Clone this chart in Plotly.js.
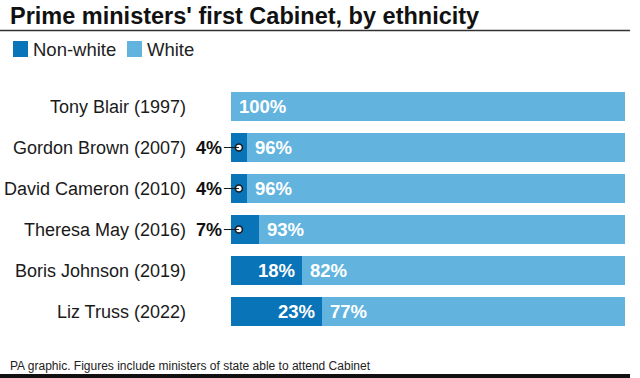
<!DOCTYPE html>
<html>
<head>
<meta charset="utf-8">
<script src="https://cdn.plot.ly/plotly-3.0.1.min.js"></script>
<style>
  html, body { margin: 0; padding: 0; background: #fff; }
  #chart { width: 640px; height: 378px; }
</style>
</head>
<body>
<div id="chart"></div>
<script>
// ---- Data ----
const categories = ['Tony Blair (1997)', 'Gordon Brown (2007)', 'David Cameron (2010)', 'Theresa May (2016)', 'Boris Johnson (2019)', 'Liz Truss (2022)'];
const nonWhite = [0, 4, 4, 7, 18, 23];
const white = [100, 96, 96, 93, 82, 77];
const seriesNames = ['Non-white', 'White'];
const titleText = "Prime ministers' first Cabinet, by ethnicity";
const footerText = 'PA graphic. Figures include ministers of state able to attend Cabinet';

// ---- Style ----
const W = 640, H = 378;
const M = {l: 231, r: 15, t: 86, b: 46};
const PW = W - M.l - M.r, PH = H - M.t - M.b;
const DARK = '#0a74b9', LIGHT = '#62b4df';
const FONT = 'Liberation Sans, Arial, sans-serif';
const px = p => (p - M.l) / PW;           // pixel x -> paper x
const py = p => (H - M.b - p) / PH;       // pixel y -> paper y
const SMALL = 10;                         // below this, non-white label goes outside
const DOT_X = 2;                          // marker position inside small segment

const traces = [
  {type: 'bar', orientation: 'h', name: seriesNames[0], y: categories, x: nonWhite,
   marker: {color: DARK}, width: 0.707, hoverinfo: 'x+y'},
  {type: 'bar', orientation: 'h', name: seriesNames[1], y: categories, x: white,
   marker: {color: LIGHT}, width: 0.707, hoverinfo: 'x+y'},
  {type: 'scatter', mode: 'markers', showlegend: false, hoverinfo: 'skip',
   y: categories.filter((c, i) => nonWhite[i] > 0 && nonWhite[i] < SMALL),
   x: nonWhite.filter(v => v > 0 && v < SMALL).map(() => DOT_X),
   marker: {symbol: 'circle', size: 7, color: '#ffffff', line: {color: '#1a1a1a', width: 1.6}}}
];

const annotations = [];
categories.forEach((c, i) => {
  // white labels
  annotations.push({x: nonWhite[i], y: c, xref: 'x', yref: 'y', text: white[i] + '%',
    showarrow: false, xanchor: 'left', xshift: 6,
    font: {family: FONT, size: 18.5, color: '#ffffff', weight: 'bold'}});
  if (nonWhite[i] >= SMALL) {
    annotations.push({x: nonWhite[i], y: c, xref: 'x', yref: 'y', text: nonWhite[i] + '%',
      showarrow: false, xanchor: 'right', xshift: -5,
      font: {family: FONT, size: 18.5, color: '#ffffff', weight: 'bold'}});
  } else if (nonWhite[i] > 0) {
    annotations.push({x: DOT_X, y: c, xref: 'x', yref: 'y', text: nonWhite[i] + '%',
      showarrow: true, arrowhead: 0, arrowwidth: 1, arrowcolor: '#1a1a1a',
      ax: -15, ay: 0, axref: 'pixel', ayref: 'pixel', xanchor: 'right',
      font: {family: FONT, size: 18, color: '#111111', weight: 'bold'}});
  }
});
// legend (custom)
annotations.push({x: px(31), y: py(49), xref: 'paper', yref: 'paper', text: seriesNames[0],
  showarrow: false, xanchor: 'left', yanchor: 'middle', font: {family: FONT, size: 18.5, color: '#222'}});
annotations.push({x: px(145), y: py(49), xref: 'paper', yref: 'paper', text: seriesNames[1],
  showarrow: false, xanchor: 'left', yanchor: 'middle', font: {family: FONT, size: 18.5, color: '#222'}});
// footer
annotations.push({x: px(8), y: py(366), xref: 'paper', yref: 'paper', text: footerText,
  showarrow: false, xanchor: 'left', yanchor: 'middle', font: {family: FONT, size: 12, color: '#222'}});

const shapes = [
  {type: 'line', xref: 'paper', yref: 'paper', x0: px(0), x1: px(630), y0: py(30.5), y1: py(30.5),
   line: {color: '#333', width: 1.5}},
  {type: 'rect', xref: 'paper', yref: 'paper', x0: px(13), x1: px(28), y0: py(41), y1: py(57),
   fillcolor: DARK, line: {width: 0}},
  {type: 'rect', xref: 'paper', yref: 'paper', x0: px(127), x1: px(142), y0: py(41), y1: py(57),
   fillcolor: LIGHT, line: {width: 0}},
  {type: 'rect', xref: 'paper', yref: 'paper', x0: px(0), x1: px(630), y0: py(374), y1: py(378),
   fillcolor: '#111', line: {width: 0}}
];

const layout = {
  width: W, height: H,
  margin: M,
  paper_bgcolor: '#ffffff', plot_bgcolor: '#ffffff',
  barmode: 'stack',
  showlegend: false,
  title: {text: titleText, x: 10 / W, xanchor: 'left', xref: 'container',
          y: 1 - 15.5 / H, yanchor: 'middle', yref: 'container',
          font: {family: FONT, size: 23.5, color: '#111', weight: 'bold'}},
  xaxis: {range: [0, 100], visible: false, fixedrange: true},
  yaxis: {type: 'category', autorange: 'reversed', showline: false, showgrid: false, zeroline: false,
          ticks: '', ticklabelstandoff: 44, tickfont: {family: FONT, size: 18, color: '#1a1a1a'},
          fixedrange: true},
  annotations: annotations,
  shapes: shapes
};

Plotly.newPlot('chart', traces, layout, {displayModeBar: false, staticPlot: true});
</script>
</body>
</html>
